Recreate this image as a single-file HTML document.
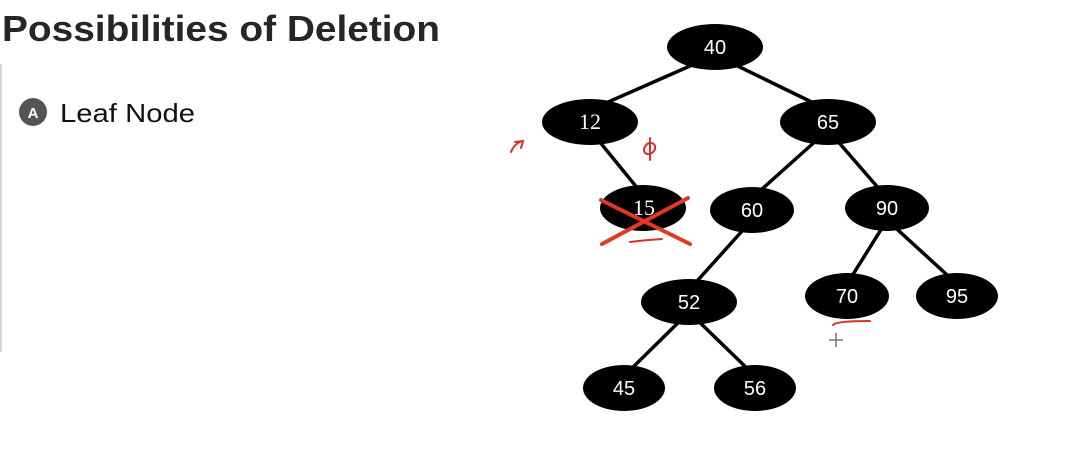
<!DOCTYPE html>
<html><head><meta charset="utf-8"><style>
html,body{margin:0;padding:0;background:#fff;width:1084px;height:474px;overflow:hidden}
</style></head><body>
<svg width="1084" height="474" xmlns="http://www.w3.org/2000/svg">
<rect width="1084" height="474" fill="#fff"/>
<text x="2" y="41" font-family="Liberation Sans, sans-serif" font-weight="bold" font-size="36" fill="#262626" textLength="438" lengthAdjust="spacingAndGlyphs">Possibilities of Deletion</text>
<line x1="1" y1="64" x2="1" y2="352" stroke="#c8c8c8" stroke-width="1.5"/>
<circle cx="33" cy="112" r="14" fill="#555"/>
<text x="33" y="118" text-anchor="middle" font-family="Liberation Sans, sans-serif" font-weight="bold" font-size="15" fill="#fff">A</text>
<text x="60" y="122" font-family="Liberation Sans, sans-serif" font-size="26" fill="#111" textLength="135" lengthAdjust="spacingAndGlyphs">Leaf Node</text>
<g stroke="#000" stroke-width="3.5">
<line x1="715" y1="55" x2="590" y2="110"/>
<line x1="715" y1="55" x2="828" y2="110"/>
<line x1="590" y1="130" x2="643" y2="195"/>
<line x1="828" y1="130" x2="752" y2="198"/>
<line x1="828" y1="130" x2="887" y2="198"/>
<line x1="752" y1="220" x2="689" y2="290"/>
<line x1="887" y1="220" x2="847" y2="284"/>
<line x1="887" y1="220" x2="957" y2="284"/>
<line x1="689" y1="312" x2="624" y2="376"/>
<line x1="689" y1="312" x2="755" y2="376"/>
</g>
<g fill="#000">
<ellipse cx="715" cy="47" rx="48" ry="23"/>
<ellipse cx="590" cy="122" rx="48" ry="23"/>
<ellipse cx="828" cy="122" rx="48" ry="23"/>
<ellipse cx="643" cy="208" rx="43" ry="23"/>
<ellipse cx="752" cy="210" rx="42" ry="23"/>
<ellipse cx="887" cy="208" rx="42" ry="23"/>
<ellipse cx="689" cy="302" rx="48" ry="23"/>
<ellipse cx="847" cy="296" rx="42" ry="23"/>
<ellipse cx="957" cy="296" rx="41" ry="23"/>
<ellipse cx="624" cy="388" rx="41" ry="23"/>
<ellipse cx="755" cy="388" rx="41" ry="23"/>
</g>
<g fill="#fff" font-size="20" text-anchor="middle" font-family="Liberation Sans, sans-serif">
<text x="715" y="54">40</text>
<text x="590" y="129" font-family="Liberation Serif, serif" font-size="22">12</text>
<text x="828" y="129">65</text>
<text x="644" y="215" font-family="Liberation Serif, serif" font-size="22">15</text>
<text x="752" y="217">60</text>
<text x="887" y="215">90</text>
<text x="689" y="309">52</text>
<text x="847" y="303">70</text>
<text x="957" y="303">95</text>
<text x="624" y="395">45</text>
<text x="755" y="395">56</text>
</g>
<g stroke="#e03a22" stroke-width="4" stroke-linecap="round" fill="none">
<line x1="601" y1="200" x2="690" y2="244"/>
<line x1="688" y1="198" x2="602" y2="244"/>
</g>
<g stroke="#d9302a" stroke-width="2" stroke-linecap="round" fill="none">
<path d="M630 242 Q646 240 662 239"/>
<path d="M833 325 Q836 321 870 321"/>
<path d="M511 152 Q514 144 522 141 M515 142 L523 141 L521 148"/>
<path d="M650 138 L650 160 M644 149 Q646 143 650 143 Q656 143 655 149 Q653 154 648 154 Q644 154 644 149"/>
</g>
<g stroke="#777" stroke-width="1.5">
<line x1="836" y1="333" x2="836" y2="347"/>
<line x1="829" y1="340" x2="843" y2="340"/>
</g>
</svg>
</body></html>
